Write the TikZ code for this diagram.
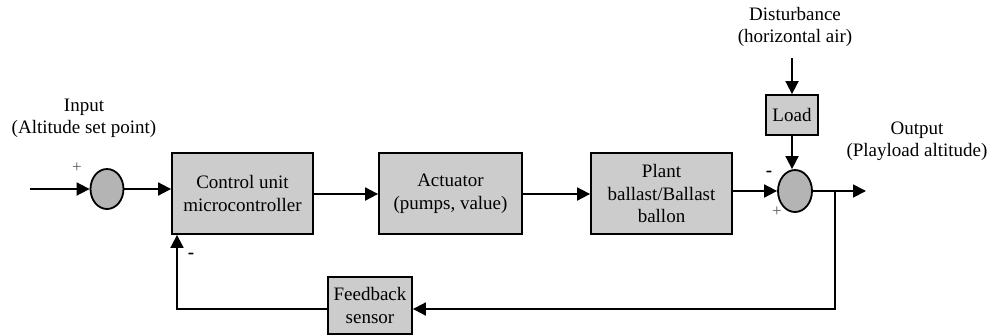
\documentclass[tikz,border=0pt]{standalone}
\usepackage{fontspec}
\setmainfont{Liberation Serif}
\usetikzlibrary{arrows.meta,shapes.geometric,calc}
\definecolor{boxgray}{HTML}{CCCCCC}
\definecolor{sumgray}{HTML}{B4B4B4}
\begin{document}
\begin{tikzpicture}[x=1pt,y=-1pt,
  blk/.style={draw,line width=1.8pt,fill=boxgray,rectangle,inner sep=0pt,align=center,font=\fontsize{19}{22.5}\selectfont},
  sumj/.style={draw,line width=1.8pt,fill=sumgray,ellipse,inner sep=0pt,minimum width=33pt,minimum height=40pt},
  lbl/.style={align=center,font=\fontsize{19}{22}\selectfont,inner sep=0pt},
  sgn/.style={font=\fontsize{19}{19}\selectfont\bfseries,inner sep=0pt},
  pls/.style={font=\fontsize{17}{17}\selectfont,text=black!65,inner sep=0pt},
  conn/.style={line width=1.8pt,-{Triangle[length=13pt,width=13pt]}}]
\useasboundingbox (0,0) rectangle (992,335);
\node[sumj] (s1) at (107,189) {};
\node[blk,minimum width=141pt,minimum height=81pt] (ctrl) at (242.5,193.5) {Control unit\\microcontroller};
\node[blk,minimum width=143pt,minimum height=81pt] (act) at (450.5,193.5) {Actuator\\(pumps, value)};
\node[blk,minimum width=141pt,minimum height=81pt] (plant) at (661.5,193.5) {Plant\\ballast/Ballast\\ballon};
\node[sumj,minimum width=34pt,minimum height=42pt] (s2) at (795,191) {};
\node[blk,minimum width=52pt,minimum height=40pt] (load) at (792,115) {Load};
\node[blk,minimum width=84pt,minimum height=57pt] (fb) at (370,305.5) {Feedback\\sensor};
\node[lbl] (inlbl) at (84,118) {Input\\(Altitude set point)};
\node[lbl] (dist) at (795,27) {Disturbance\\(horizontal air)};
\node[lbl] (outlbl) at (917,141) {Output\\(Playload altitude)};
\node[pls] (p1) at (77,168) {+};
\node[pls] (p2) at (777,212) {+};
\node[sgn] (m1) at (769,174) {-};
\node[sgn] (m2) at (191,256) {-};
\coordinate (inS) at (30,189);
\coordinate (dS) at (792,58);
\coordinate (outE) at (866,191);
\coordinate (br) at (835,191);
\coordinate (brD) at (835,309);
\coordinate (fbL) at (177,309);
\draw[conn] (inS) -- (s1.west);
\draw[conn] (s1.east) -- (s1.east -| ctrl.west);
\draw[conn] (ctrl.east |- 0,194) -- (act.west |- 0,194);
\draw[conn] (act.east |- 0,194) -- (plant.west |- 0,194);
\draw[conn] (plant.east |- s2.west) -- (s2.west);
\draw[conn] (dS) -- (load.north);
\draw[conn] (load.south) -- (s2.north -| load.south);
\draw[conn] (s2.east) -- (outE);
\draw[conn] (br) -- (brD) -- (fb.east |- brD);
\draw[conn] (fb.west |- fbL) -- (fbL) -- (fbL |- ctrl.south);
\end{tikzpicture}
\end{document}
